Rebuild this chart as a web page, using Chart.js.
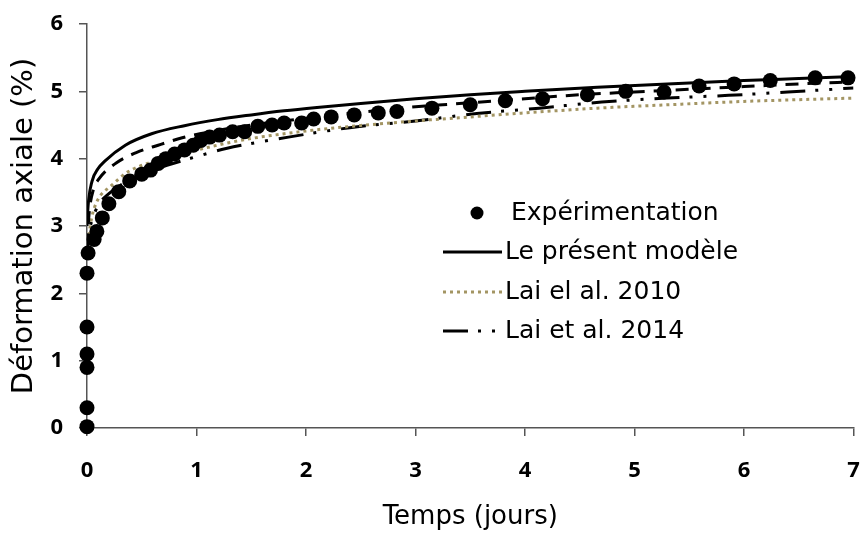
<!DOCTYPE html>
<html lang="fr">
<head>
<meta charset="utf-8">
<title>Déformation axiale</title>
<script src="https://cdn.jsdelivr.net/npm/chart.js@4.4.1/dist/chart.umd.min.js"></script>
<style>
    html, body { margin: 0; padding: 0; background: #fff; }
    #boite { width: 861px; height: 534px; position: relative; }
</style>
</head>
<body>
<div id="boite"><canvas id="courbe"></canvas></div>
<script>
// Mesures (temps en jours, déformation en %)
const expTemps = [0, 0, 0, 0, 0, 0, 0.01, 0.065, 0.09, 0.14, 0.2, 0.29, 0.39, 0.5, 0.58, 0.65, 0.72, 0.8, 0.89, 0.97,
    1.04, 1.12, 1.21, 1.33, 1.44, 1.56, 1.69, 1.8, 1.96, 2.07, 2.23, 2.44, 2.66, 2.83, 3.15, 3.5, 3.82, 4.16,
    4.57, 4.92, 5.27, 5.59, 5.91, 6.24, 6.65, 6.95];
const expDef = [0.02, 0.3, 0.9, 1.1, 1.5, 2.3, 2.6, 2.8, 2.92, 3.12, 3.33, 3.51, 3.67, 3.77, 3.83, 3.93, 4.0, 4.07, 4.13, 4.2,
    4.27, 4.32, 4.35, 4.4, 4.4, 4.48, 4.5, 4.53, 4.53, 4.59, 4.62, 4.65, 4.68, 4.7, 4.75, 4.8, 4.86, 4.89,
    4.95, 5.0, 4.99, 5.08, 5.11, 5.16, 5.2, 5.2];

// Le présent modèle
const modeleTemps = [0, 0.01, 0.045, 0.1, 0.16, 0.35, 0.59, 0.89, 1.19, 1.5, 1.8, 2.1, 2.5, 3.0, 3.5, 4.0, 4.66, 5.3, 6.0, 6.5, 7.0];
const modeleDef = [3.0, 3.3, 3.66, 3.85, 3.96, 4.2, 4.37, 4.49, 4.58, 4.65, 4.71, 4.76, 4.82, 4.89, 4.95, 5.0, 5.06, 5.11, 5.16, 5.19, 5.22];

// Courbe en tirets (sans entrée de légende)
const tiretTemps = [0, 0.02, 0.06, 0.1, 0.27, 0.45, 0.65, 0.87, 1.03, 1.5, 2.0, 2.5, 3.0, 3.5, 4.0, 4.5, 5.0, 5.5, 6.0, 6.5, 7.0];
const tiretDef = [2.7, 3.2, 3.55, 3.68, 3.94, 4.09, 4.2, 4.31, 4.37, 4.5, 4.6, 4.69, 4.77, 4.83, 4.89, 4.95, 4.99, 5.03, 5.07, 5.11, 5.14];

// Lai el al. 2010
const lai2010Temps = [0, 0.01, 0.04, 0.09, 0.23, 0.37, 0.59, 0.89, 1.19, 1.5, 1.8, 2.1, 2.55, 3.0, 3.5, 4.0, 4.66, 5.3, 6.0, 7.0];
const lai2010Def = [2.55, 2.75, 3.1, 3.36, 3.61, 3.8, 3.95, 4.08, 4.2, 4.3, 4.37, 4.43, 4.5, 4.56, 4.62, 4.68, 4.75, 4.8, 4.85, 4.9];

// Lai et al. 2014
const lai2014Temps = [0, 0.02, 0.05, 0.1, 0.2, 0.35, 0.5, 0.73, 1.0, 1.27, 1.84, 2.4, 3.0, 3.56, 4.13, 4.7, 5.3, 5.86, 6.4, 7.0];
const lai2014Def = [2.5, 2.9, 3.1, 3.3, 3.48, 3.65, 3.76, 3.9, 4.03, 4.15, 4.32, 4.46, 4.56, 4.67, 4.75, 4.84, 4.9, 4.94, 4.99, 5.05];

const xTicks = [0, 1, 2, 3, 4, 5, 6, 7];
const yTicks = [0, 1, 2, 3, 4, 5, 6];

function points(xs, ys) {
    return xs.map((x, i) => ({ x: x, y: ys[i] }));
}

const policeTicks = "'Open Sans', 'DejaVu Sans', sans-serif";
const police = "'DejaVu Sans', 'Open Sans', sans-serif";
const gris = '#555555';

function courbe(label, data, couleur, tirets) {
    return {
        label: label,
        data: data,
        showLine: true,
        pointRadius: 0,
        borderColor: couleur,
        backgroundColor: couleur,
        borderWidth: 3,
        borderDash: tirets,
        cubicInterpolationMode: 'monotone'
    };
}

// légende dessinée à la main dans la zone du graphique
const legendeMaison = {
    id: 'legendeMaison',
    afterDraw(chart) {
        const ctx = chart.ctx;
        const lignes = [
            { ds: 0, y: 213 },
            { ds: 1, y: 252 },
            { ds: 3, y: 292 },
            { ds: 4, y: 331 }
        ];
        ctx.save();
        ctx.font = '25px ' + police;
        ctx.textBaseline = 'middle';
        ctx.fillStyle = '#000';
        lignes.forEach(l => {
            const ds = chart.data.datasets[l.ds];
            if (l.ds === 0) {
                ctx.beginPath();
                ctx.arc(477, l.y, 6.5, 0, Math.PI * 2);
                ctx.fill();
                ctx.fillText(ds.label, 511, l.y);
            } else {
                ctx.beginPath();
                ctx.strokeStyle = ds.borderColor;
                ctx.lineWidth = ds.borderWidth;
                ctx.setLineDash(ds.borderDash || []);
                ctx.moveTo(443, l.y);
                ctx.lineTo(502, l.y);
                ctx.stroke();
                ctx.setLineDash([]);
                ctx.fillText(ds.label, 505, l.y);
            }
        });
        ctx.restore();
    }
};

const ctx = document.getElementById('courbe').getContext('2d');
new Chart(ctx, {
    type: 'scatter',
    data: {
        datasets: [
            {
                label: 'Expérimentation',
                data: points(expTemps, expDef),
                showLine: false,
                pointRadius: 7.5,
                pointBackgroundColor: '#000',
                pointBorderColor: '#000',
                pointBorderWidth: 0,
                clip: false
            },
            courbe('Le présent modèle', points(modeleTemps, modeleDef), '#000', []),
            courbe('', points(tiretTemps, tiretDef), '#000', [13, 9]),
            courbe('Lai el al. 2010', points(lai2010Temps, lai2010Def), '#a39563', [3, 4]),
            courbe('Lai et al. 2014', points(lai2014Temps, lai2014Def), '#000', [25, 10, 3, 11, 3, 11])
        ]
    },
    options: {
        responsive: true,
        maintainAspectRatio: false,
        animation: false,
        layout: { padding: { top: 24, right: -4, left: 0, bottom: 0 } },
        plugins: {
            legend: { display: false },
            tooltip: { enabled: false }
        },
        scales: {
            x: {
                type: 'linear',
                min: 0,
                max: 7,
                afterBuildTicks: s => { s.ticks = xTicks.map(v => ({ value: v })); },
                afterFit: s => {
                    s.height = 106;
                    s.paddingLeft = 0;
                    s.paddingRight = 0;
                },
                ticks: {
                    color: '#000',
                    padding: 22,
                    font: { family: policeTicks, size: 22, weight: 'bold' }
                },
                grid: { drawOnChartArea: false, tickLength: 8, color: gris, lineWidth: 1.5 },
                border: { color: gris, width: 1.5 },
                title: {
                    display: true,
                    text: 'Temps (jours)',
                    color: '#000',
                    font: { family: police, size: 26 },
                    padding: { top: 0, bottom: 1 }
                }
            },
            y: {
                type: 'linear',
                min: 0,
                max: 6,
                afterBuildTicks: s => { s.ticks = yTicks.map(v => ({ value: v })); },
                afterFit: s => {
                    s.width = 87;
                    s.paddingTop = 0;
                    s.paddingBottom = 0;
                },
                ticks: {
                    color: '#000',
                    padding: 16,
                    font: { family: policeTicks, size: 22, weight: 'bold' }
                },
                grid: { drawOnChartArea: false, tickLength: 8, color: gris, lineWidth: 1.5 },
                border: { color: gris, width: 1.5 },
                title: {
                    display: true,
                    text: 'Déformation axiale (%)',
                    color: '#000',
                    font: { family: police, size: 29 },
                    padding: { top: 7, bottom: 0 }
                }
            }
        }
    },
    plugins: [legendeMaison]
});
</script>
</body>
</html>
